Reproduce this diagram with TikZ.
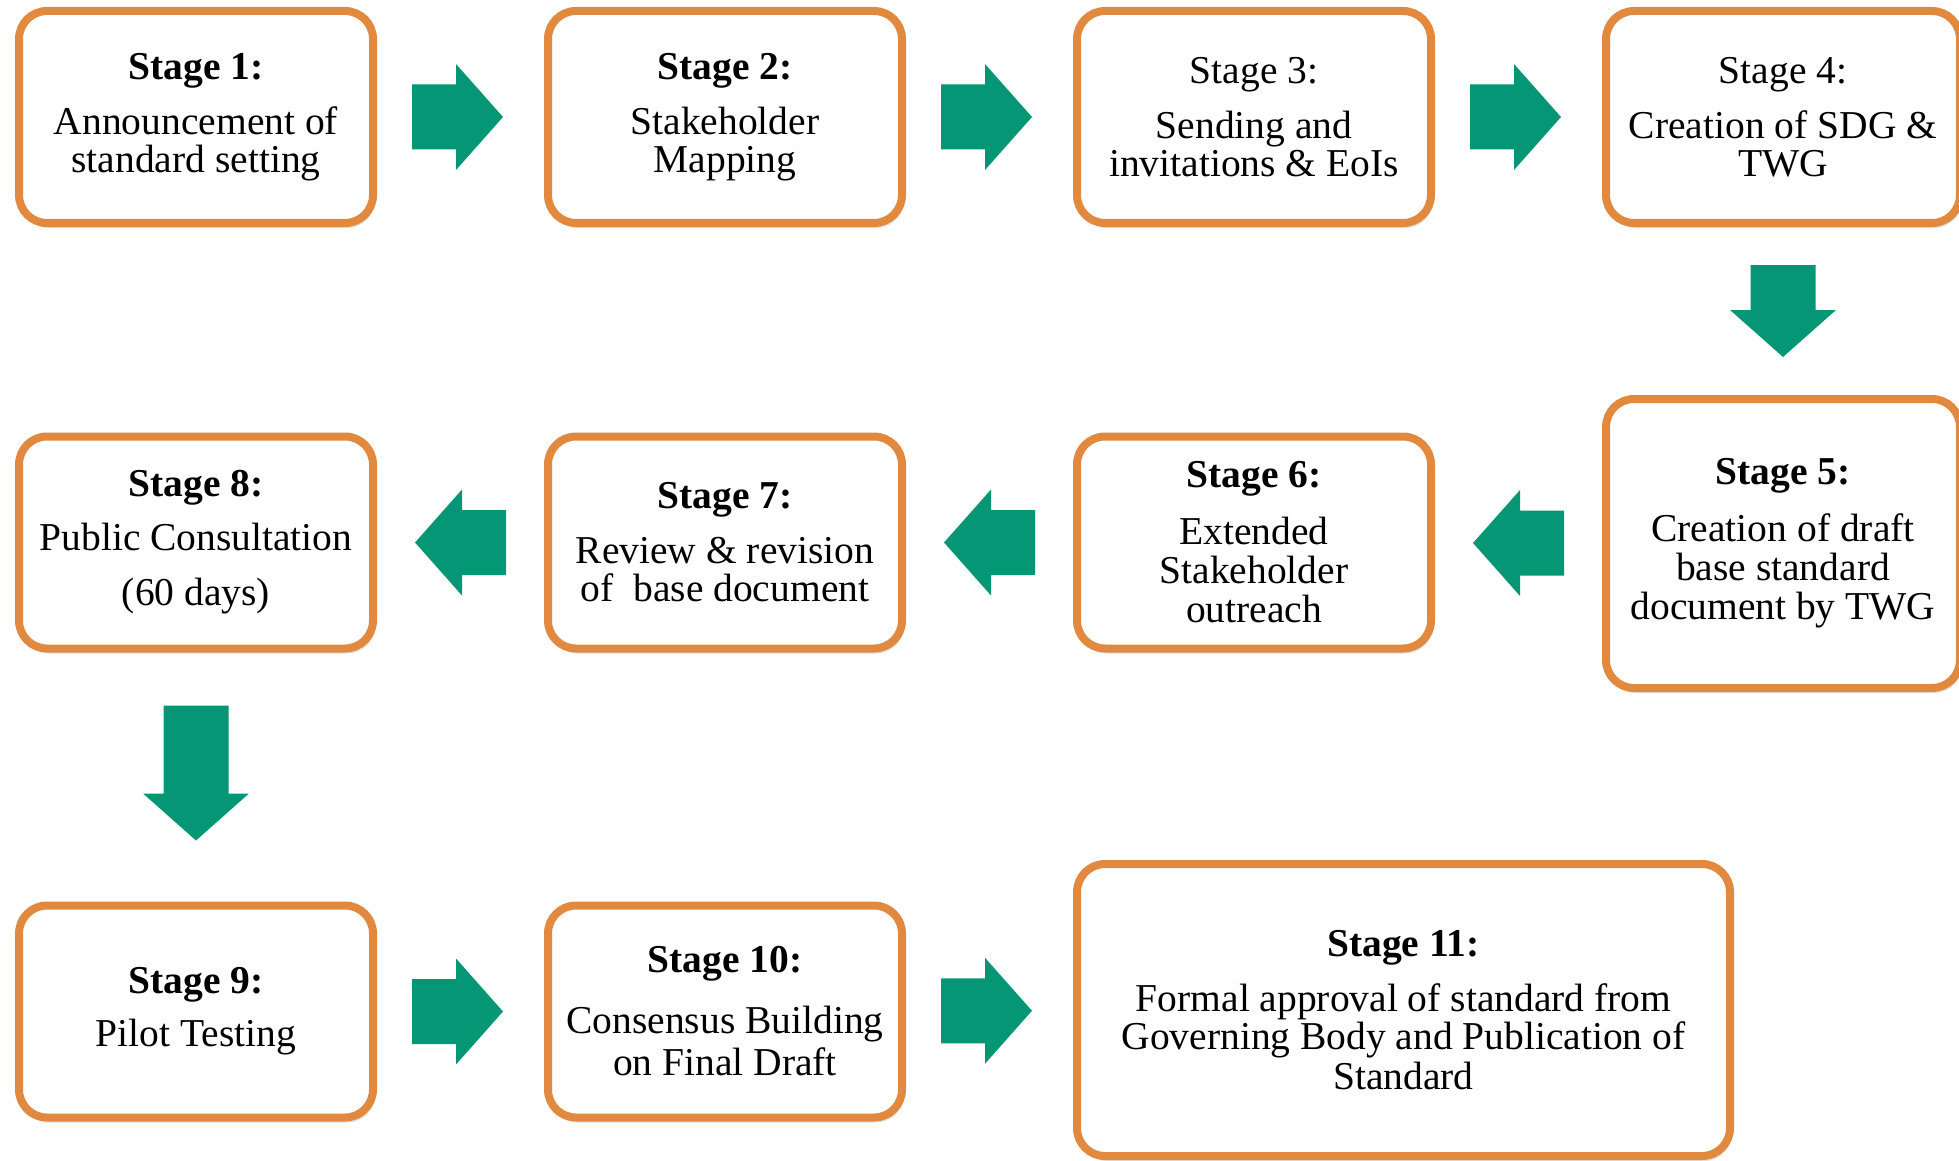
\documentclass[tikz,border=0pt]{standalone}
\usepackage{fontspec}
\setmainfont{Liberation Serif}
\usepackage{tikz}
\usetikzlibrary{calc,shadows}
\definecolor{boxorange}{RGB}{226,137,64}
\definecolor{arrowgreen}{RGB}{5,150,117}
\tikzset{
  stagebox/.style={draw=boxorange, line width=8pt, rounded corners=28pt, fill=white,
    align=center, inner sep=0pt, minimum width=354pt, minimum height=212pt,
    font=\fontsize{39.5}{38}\selectfont,
    drop shadow={shadow xshift=2pt, shadow yshift=-5pt, opacity=0.25}},
  pics/fatarrow/.style={code={
    \fill[arrowgreen] (-#1/2,-32.5) -- (#1/2-47,-32.5) -- (#1/2-47,-53) -- (#1/2,0)
      -- (#1/2-47,53) -- (#1/2-47,32.5) -- (-#1/2,32.5) -- cycle;}}
}

\begin{document}
\begin{tikzpicture}[x=1pt,y=-1pt]
\useasboundingbox (0,0) rectangle (1959,1161);
\node[stagebox] (Stage1) at (196,117) {\textbf{Stage 1:}\\[17pt]Announcement of\\standard setting};
\node[stagebox] (Stage2) at (725,117) {\textbf{Stage 2:}\\[17pt]Stakeholder\\Mapping};
\node[stagebox] (Stage3) at (1254,117) {Stage 3:\\[17pt]Sending and\\invitations \& EoIs};
\node[stagebox] (Stage4) at (1783,117) {Stage 4:\\[17pt]Creation of SDG \&\\TWG};
\node[stagebox, minimum height=289pt] (Stage5) at (1783,543.5) {\textbf{Stage 5:}\\[19pt]Creation of draft\\[1pt]base standard\\[1pt]document by TWG};
\node[stagebox] (Stage6) at (1254,542.5) {\textbf{Stage 6:}\\[19pt]Extended\\[1pt]Stakeholder\\[1pt]outreach};
\node[stagebox] (Stage7) at (725,542.5) {\textbf{Stage 7:}\\[17pt]Review \& revision\\of~ base document};
\node[stagebox] (Stage8) at (196,542.5) {\textbf{Stage 8:}\\[16pt]Public Consultation\\[17pt](60 days)};
\node[stagebox] (Stage9) at (196,1011.5) {\textbf{Stage 9:}\\[15pt]Pilot Testing};
\node[stagebox] (Stage10) at (725,1011.5) {\textbf{Stage 10:}\\[23pt]Consensus Building\\[4pt]on Final Draft};
\node[stagebox, minimum width=653pt, minimum height=292pt] (Stage11) at (1403.5,1010) {\textbf{Stage 11:}\\[17pt]Formal approval of standard from\\Governing Body and Publication of\\[2pt]Standard};
\pic[xshift=-3pt] at ($(Stage1.east)!0.5!(Stage2.west)$) {fatarrow=91};
\pic[xshift=-3pt] at ($(Stage2.east)!0.5!(Stage3.west)$) {fatarrow=91};
\pic[xshift=-3pt] at ($(Stage3.east)!0.5!(Stage4.west)$) {fatarrow=91};
\pic[rotate=-90] at ($(Stage4.south)!0.5!(Stage5.north)$) {fatarrow=92};
\pic[rotate=180] at ($(Stage5.west)!0.5!(Stage6.east)$) {fatarrow=91};
\pic[rotate=180] at ($(Stage6.west)!0.5!(Stage7.east)$) {fatarrow=91};
\pic[rotate=180] at ($(Stage7.west)!0.5!(Stage8.east)$) {fatarrow=91};
\pic[yshift=4pt,rotate=-90] at ($(Stage8.south)!0.5!(Stage9.north)$) {fatarrow=135};
\pic[xshift=-3pt] at ($(Stage9.east)!0.5!(Stage10.west)$) {fatarrow=91};
\pic[xshift=-3pt] at ($(Stage10.east)!0.5!(Stage11.west)$) {fatarrow=91};
\end{tikzpicture}
\end{document}
